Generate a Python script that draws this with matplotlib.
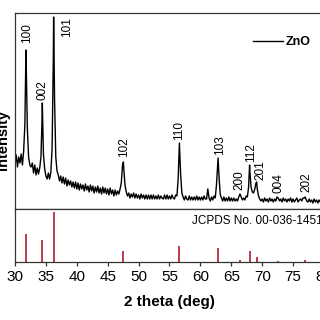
import matplotlib
matplotlib.use('Agg')
import matplotlib.pyplot as plt

plt.rcParams['font.family'] = ['Liberation Sans', 'DejaVu Sans']

# XRD-профіль ZnO, значення (в умовних одиницях)
grid_start = 30.0
grid_step = 0.2
grid_counts = [
    44, 54, 42, 52, 46,   # 30
    55, 44, 58, 85, 150,  # 31
    80, 52, 44, 42, 46,   # 32
    36, 44, 34, 41, 35,   # 33
    41, 52, 95, 55, 40,   # 34
    33, 30, 36, 30, 37,   # 35
    60, 150, 110, 52, 38,  # 36
    34, 28, 33, 26, 32,   # 37
    25, 31, 23, 29, 24,   # 38
    28, 22, 27, 21, 27,   # 39
    20, 26, 19, 25, 20,   # 40
    24, 18, 25, 19, 23,   # 41
    17, 24, 18, 23, 16,   # 42
    22, 17, 23, 16, 21,   # 43
    15, 22, 16, 21, 15,   # 44
    20, 14, 21, 15, 19,   # 45
    13, 19, 14, 18, 15,   # 46
    20, 26, 44, 40, 24,   # 47
    17, 13, 16, 11, 15,   # 48
    12, 16, 11, 15, 11,   # 49
    14, 10, 15, 11, 14,   # 50
    10, 14, 10, 14, 10,   # 51
    14, 10, 14, 10, 13,   # 52
    10, 14, 10, 13, 11,   # 53
    10, 14, 10, 14, 10,   # 54
    13, 10, 14, 11, 10,   # 55
    14, 13, 30, 66, 35,   # 56
    16, 12, 9, 13, 10,    # 57
    9, 13, 9, 12, 9,      # 58
    12, 9, 13, 9, 12,     # 59
    9, 12, 9, 13, 10,     # 60
    10, 20, 11, 8, 12,    # 61
    9, 13, 11, 24, 46,    # 62
    34, 15, 11, 8, 12,    # 63
    8, 11, 8, 12, 8,      # 64
    11, 8, 11, 8, 10,     # 65
    8, 12, 15, 12, 9,     # 66
    11, 9, 13, 12, 22,    # 67
    38, 22, 17, 16, 20,   # 68
    26, 20, 13, 10, 8,    # 69
    10, 7, 11, 8, 10,     # 70
    7, 11, 8, 10, 7,      # 71
    10, 8, 12, 11, 8,     # 72
    10, 7, 11, 8, 10,     # 73
    7, 10, 8, 11, 7,      # 74
    10, 7, 9, 11, 7,      # 75
    9, 10, 8, 11, 11,     # 76
    11, 8, 7, 10, 7,      # 77
    9, 6, 10, 7, 9,       # 78
    6, 9, 7, 10, 6,       # 79
    8,                    # 80
]
apex_angles = [31.77, 34.42, 36.25, 47.54, 62.86, 67.96, 69.10, 76.95]
apex_counts = [159, 106, 192, 47, 51, 44, 27, 12]

# Індекси та положення підписів над піками
hkl_labels = ['100', '002', '101', '102', '110', '103', '200', '112', '201', '004', '202']
hkl_x = [31.94, 34.37, 38.41, 47.64, 56.54, 63.17, 66.25, 68.19, 69.64, 72.56, 77.09]
hkl_y = [166, 109, 172, 52, 69, 54, 19, 47, 29, 16, 17]

# Еталонні лінії JCPDS 00-036-1451
ref_angles = [31.77, 34.42, 36.25, 47.54, 56.60, 62.86, 66.38, 67.96, 69.10, 72.56, 76.95]
ref_intensity = [57, 44, 100, 23, 32, 29, 4, 23, 11, 2, 4]

points = [(round(grid_start + i * grid_step, 2), c) for i, c in enumerate(grid_counts)]
points += list(zip(apex_angles, apex_counts))
points.sort()
angles = [p[0] for p in points]
counts = [p[1] for p in points]

fig = plt.figure(figsize=(3.2, 3.2), dpi=100)
ax1 = fig.add_axes([15 / 320, 111 / 320, 309 / 320, 196 / 320])
ax2 = fig.add_axes([15 / 320, 58 / 320, 309 / 320, 53 / 320])

spine_color = '#333333'
for ax in (ax1, ax2):
    for s in ax.spines.values():
        s.set_color(spine_color)
        s.set_linewidth(0.9)

ax1.plot(angles, counts, color='black', lw=1.0, label='ZnO')
ax1.set_xlim(30, 80)
ax1.set_ylim(0, 196)
ax1.set_xticks([])
ax1.set_yticks([])
for lab, x, y in zip(hkl_labels, hkl_x, hkl_y):
    ax1.text(x, y, lab, rotation=90, ha='center', va='bottom', fontsize=8.5)
ax1.legend(loc='upper left', bbox_to_anchor=(0.77, 0.883), frameon=False,
           borderpad=0, borderaxespad=0, handlelength=2.4, handletextpad=0.2,
           prop={'weight': 'bold', 'size': 9})

ax2.vlines(ref_angles, 0, ref_intensity, color='#b3182d', lw=1.2)
ax2.set_xlim(30, 80)
ax2.set_ylim(0, 106)
ax2.set_yticks([])
ax2.set_xticks(range(30, 81, 5))
ax2.tick_params(axis='x', direction='out', length=3, width=0.9, color=spine_color,
                labelsize=11, pad=3)
ax2.text(58.64, 0.77, 'JCPDS No. 00-036-1451', transform=ax2.get_xaxis_transform(),
         ha='left', va='center', fontsize=8.5)

fig.text(3 / 320, 1 - 140 / 320, 'Intensity', rotation=90, ha='center', va='center',
         fontsize=10.5, fontweight='bold')
fig.text(169 / 320, 1 - 302 / 320, '2 theta (deg)', ha='center', va='center',
         fontsize=11, fontweight='bold')

fig.savefig('out.png', dpi=100)
